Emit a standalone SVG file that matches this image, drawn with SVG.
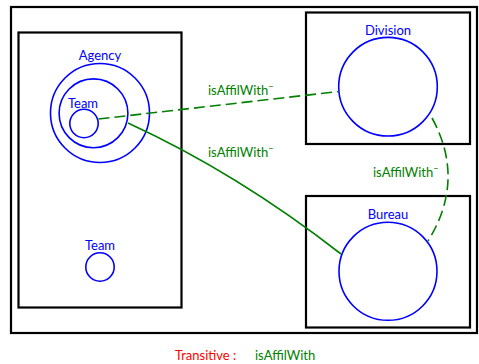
<svg xmlns="http://www.w3.org/2000/svg" width="479" height="364" viewBox="0 0 479 364">
<style>
.box{fill:none;stroke:#000;stroke-width:2.2}
.c{fill:none;stroke:#0000ff;stroke-width:1.6}
.lbl{font-family:Lato,"Liberation Sans",sans-serif;font-size:13px;fill:#0000ff;text-anchor:middle}
.e{fill:none;stroke:#008000;stroke-width:1.6}
.dash{stroke-dasharray:11,5}
.el{font-family:Lato,"Liberation Sans",sans-serif;font-size:13px;fill:#008000}
.sup{font-size:9px}
</style>
<rect class="box" x="11" y="7" width="466" height="326"/>
<g id="agencyBox"><rect class="box" x="18.5" y="32.5" width="163" height="275"/></g>
<g id="agency"><circle class="c" cx="100" cy="113" r="49.5"/><text class="lbl" x="100" y="60">Agency</text></g>
<g id="team1"><circle class="c" cx="93.5" cy="113.3" r="34.4"/><text class="lbl" x="83" y="108">Team</text></g>
<g id="team2"><circle class="c" cx="84" cy="123.5" r="14.2"/></g>
<g id="team3"><circle class="c" cx="100" cy="267" r="14.2"/><text class="lbl" x="100" y="250">Team</text></g>
<g id="divisionBox"><rect class="box" x="306" y="12.5" width="164" height="131.5"/></g>
<g id="division"><circle class="c" cx="388" cy="86.7" r="49.3"/><text class="lbl" x="388" y="35">Division</text></g>
<g id="bureauBox"><rect class="box" x="306" y="196" width="164" height="131.5"/></g>
<g id="bureau"><circle class="c" cx="388" cy="271.3" r="49"/><text class="lbl" x="388" y="219">Bureau</text></g>
<g id="connectors">
<path class="e dash" d="M98.5,119 L338.7,91.5"/>
<path class="e" d="M128,123 Q237,173 341,254"/>
<path class="e dash" d="M432,118 Q466,180 428,241"/>
<text class="el" x="208" y="95">isAffilWith<tspan class="sup" dy="-5">−</tspan></text>
<text class="el" x="208" y="157">isAffilWith<tspan class="sup" dy="-5">−</tspan></text>
<text class="el" x="373" y="177">isAffilWith<tspan class="sup" dy="-5">−</tspan></text>
</g>
<text font-family="Lato,'Liberation Sans',sans-serif" font-size="13" fill="#ff0000" x="175" y="360">Transitive :</text>
<text class="el" x="255" y="360">isAffilWith</text>
</svg>
